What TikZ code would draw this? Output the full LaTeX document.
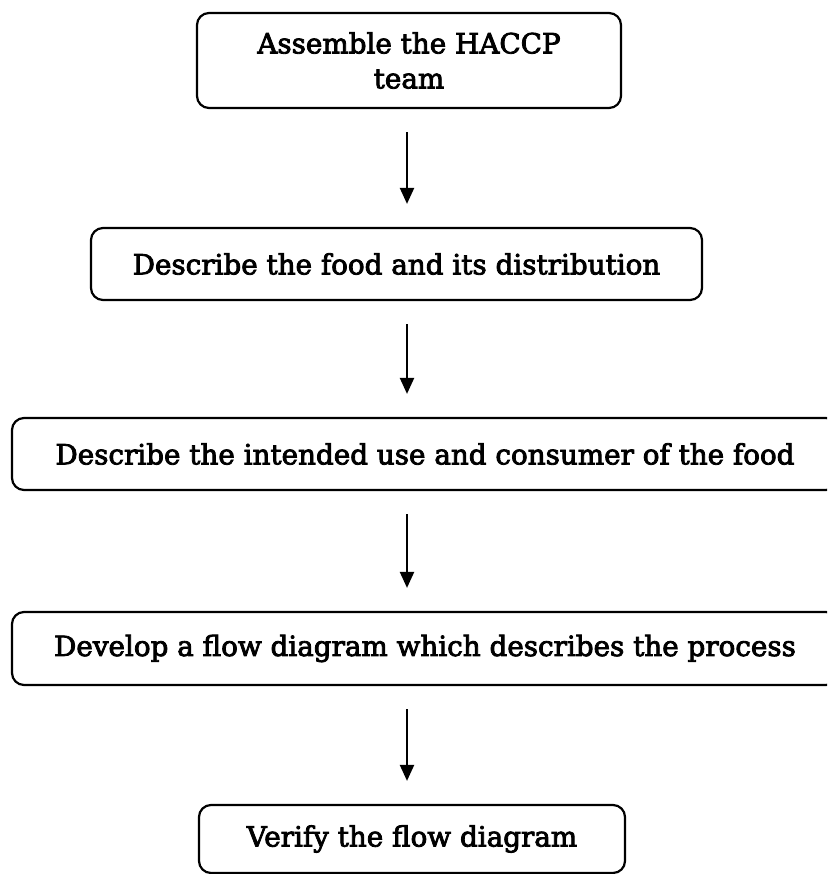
\documentclass[tikz,border=0pt]{standalone}
\usepackage{fontspec}
\setmainfont[FakeBold=3]{DejaVu Serif}
\usetikzlibrary{arrows.meta}
\begin{document}
\begin{tikzpicture}[x=1pt,y=-1pt,
  stepbox/.style={draw=black,line width=2.2pt,rounded corners=12pt,inner sep=0pt,
    font=\fontsize{27.8}{35}\selectfont,align=center},
  flow/.style={line width=2.2pt,-{Triangle[width=14pt,length=16pt]},shorten <=23pt,shorten >=23pt}]
\useasboundingbox (0,0) rectangle (827,874);
\clip (0,0) rectangle (827,874);
\fill[white] (0,0) rectangle (827,874);
\coordinate (ax) at (407,0);
\node[stepbox,minimum width=424pt,minimum height=95pt] (b1) at (409,60.5) {Assemble the HACCP\\team};
\node[stepbox,minimum width=611pt,minimum height=72pt] (b2) at (396.5,264) {Describe the food and its distribution};
\node[stepbox,minimum width=826pt,minimum height=72pt] (b3) at (425,454) {Describe the intended use and consumer of the food};
\node[stepbox,minimum width=826pt,minimum height=73pt] (b4) at (425,648.5) {Develop a flow diagram which describes the process};
\node[stepbox,minimum width=426pt,minimum height=68pt] (b5) at (412,839) {Verify the flow diagram};
\draw[flow] (b1.south -| ax) -- (b2.north -| ax);
\draw[flow] (b2.south -| ax) -- (b3.north -| ax);
\draw[flow] (b3.south -| ax) -- (b4.north -| ax);
\draw[flow] (b4.south -| ax) -- (b5.north -| ax);
\end{tikzpicture}
\end{document}
